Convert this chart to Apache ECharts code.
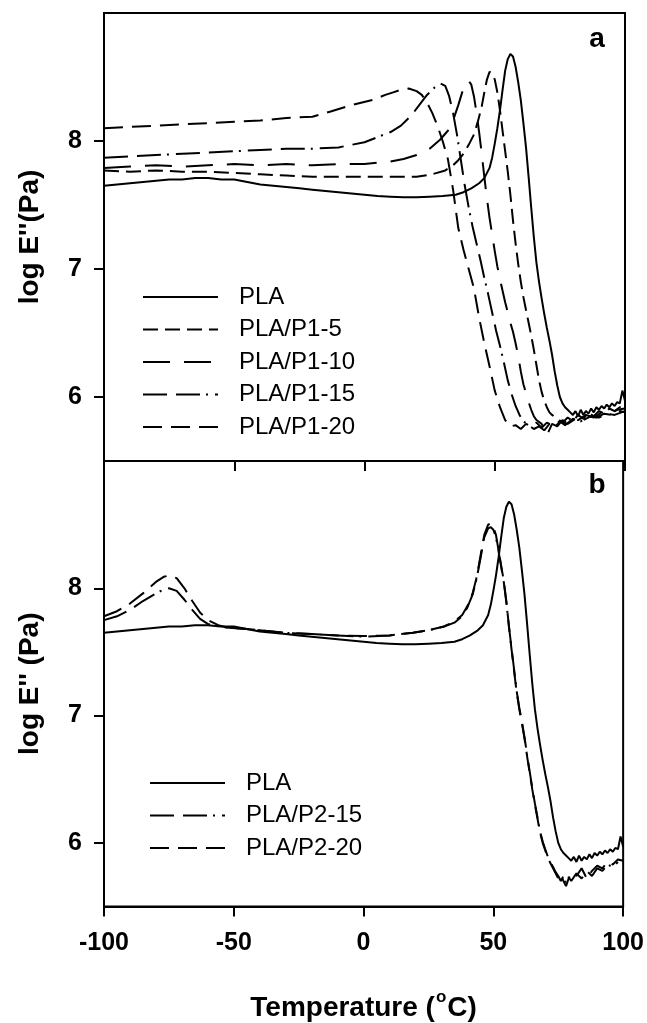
<!DOCTYPE html>
<html>
<head>
<meta charset="utf-8">
<script src="https://cdn.jsdelivr.net/npm/echarts@6/dist/echarts.min.js"></script>
<style>
html,body{margin:0;padding:0;background:#fff;}
#chart{width:647px;height:1023px;}
</style>
</head>
<body>
<div id="chart"></div>
<script>
// ---- Data (temperature °C, log E'' (Pa)) ----
const xTicks = [-100, -50, 0, 50, 100];
const yTicks = [6, 7, 8];

const plaCurve = [[-100,7.65],[-95,7.66],[-90,7.67],[-85,7.68],[-80,7.69],[-75,7.70],[-70,7.70],[-65,7.71],[-60,7.71],[-55,7.70],[-50,7.70],[-45,7.68],[-40,7.66],[-35,7.65],[-30,7.64],[-25,7.63],[-20,7.62],[-15,7.61],[-10,7.60],[-5,7.59],[0,7.58],[5,7.57],[10,7.565],[15,7.56],[20,7.56],[25,7.565],[30,7.57],[35,7.58],[38,7.60],[41,7.63],[44,7.67],[46,7.71],[48,7.79],[49,7.87],[50,7.98],[51,8.10],[52,8.24],[53,8.40],[54,8.55],[55,8.64],[56,8.68],[57,8.66],[58,8.58],[59,8.46],[60,8.32],[61,8.14],[62,7.95],[63,7.72],[64,7.48],[65,7.25],[66,7.05],[67,6.90],[68,6.77],[69,6.65],[70,6.54],[71,6.44],[72,6.33],[73,6.20],[74,6.09],[75,6.00],[76,5.95],[77,5.92],[78,5.90],[79,5.88],[80,5.86],[81,5.89],[82,5.85],[83,5.90],[84,5.86],[85,5.89],[86,5.87],[87,5.91],[88,5.88],[89,5.92],[90,5.90],[91,5.93],[92,5.91],[93,5.94],[94,5.92],[95,5.95],[96,5.93],[97,5.96],[98,5.95],[99,6.05],[100,5.97]];

const p1_5 = [[-100,7.77],[-90,7.76],[-80,7.77],[-70,7.76],[-60,7.76],[-50,7.75],[-40,7.74],[-30,7.73],[-20,7.72],[-10,7.72],[0,7.72],[10,7.72],[20,7.72],[26,7.74],[31,7.77],[34,7.81],[36,7.85],[38,7.90],[40,7.97],[42,8.05],[43.5,8.15],[45,8.27],[46,8.38],[47,8.48],[48,8.54],[49,8.53],[50,8.48],[51,8.38],[52,8.24],[53,8.08],[54,7.92],[55,7.76],[56,7.58],[57,7.38],[58,7.20],[59,7.04],[60,6.90],[61,6.78],[62,6.68],[63,6.58],[64,6.48],[65,6.37],[66,6.25],[67,6.13],[68,6.04],[69,5.97],[70,5.92],[71,5.88],[72,5.86],[74,5.83],[76,5.80],[78,5.84],[80,5.81],[82,5.86],[84,5.83],[86,5.88],[88,5.85],[90,5.89],[92,5.87],[94,5.91],[96,5.89],[98,5.92],[100,5.93]];

const p1_10 = [[-100,7.79],[-90,7.80],[-80,7.81],[-70,7.80],[-60,7.81],[-50,7.82],[-40,7.81],[-30,7.82],[-20,7.81],[-10,7.82],[0,7.82],[10,7.84],[15,7.86],[20,7.89],[25,7.94],[29,8.01],[32,8.08],[34,8.16],[36,8.28],[37.5,8.38],[39,8.46],[40,8.47],[41,8.44],[42,8.35],[43,8.22],[44,8.07],[45,7.90],[46,7.72],[47,7.55],[48,7.40],[49,7.27],[50,7.14],[51,7.02],[52,6.92],[53,6.83],[54,6.74],[55,6.66],[56,6.58],[57,6.51],[58,6.42],[59,6.32],[60,6.20],[61,6.10],[62,6.03],[63,5.96],[64,5.90],[65,5.85],[66,5.82],[68,5.79],[70,5.70],[72,5.79],[74,5.77],[76,5.82],[78,5.80],[80,5.84],[82,5.82],[85,5.86],[88,5.84],[91,5.88],[94,5.87],[97,5.90],[100,5.91]];

const p1_15 = [[-100,7.87],[-90,7.88],[-80,7.89],[-70,7.90],[-60,7.91],[-50,7.92],[-40,7.93],[-30,7.94],[-20,7.94],[-10,7.95],[-5,7.97],[0,7.99],[5,8.03],[10,8.07],[14,8.12],[18,8.20],[21,8.28],[24,8.36],[27,8.42],[29,8.45],[31,8.43],[32.5,8.35],[34,8.22],[35.5,8.05],[37,7.85],[38.5,7.65],[40,7.48],[41.5,7.33],[43,7.20],[44.5,7.07],[46,6.93],[47.5,6.80],[49,6.66],[50.5,6.52],[52,6.40],[53.5,6.27],[55,6.13],[56.5,6.02],[58,5.93],[59.5,5.86],[61,5.81],[63,5.78],[65,5.75],[67,5.77],[69,5.74],[71,5.79],[73,5.76],[75,5.81],[77,5.78],[80,5.83],[83,5.81],[86,5.85],[89,5.84],[92,5.87],[95,5.86],[98,5.89],[100,5.88]];

const p1_20 = [[-100,8.10],[-90,8.11],[-80,8.12],[-70,8.13],[-60,8.14],[-50,8.15],[-40,8.16],[-30,8.18],[-20,8.19],[-13,8.23],[-5,8.28],[3,8.32],[8,8.36],[11,8.38],[14,8.40],[17,8.41],[20,8.39],[22,8.36],[24,8.30],[26,8.22],[28,8.12],[30,8.00],[32,7.86],[34,7.62],[36,7.32],[38,7.15],[40,7.00],[42,6.85],[44,6.62],[46,6.42],[48,6.24],[50,6.05],[52,5.92],[54,5.82],[56,5.77],[58,5.78],[60,5.75],[62,5.79],[64,5.77],[66,5.80],[68,5.76],[70,5.80],[72,5.78],[75,5.81],[78,5.79],[81,5.83],[84,5.82],[87,5.85],[90,5.84],[93,5.87],[96,5.86],[100,5.89]];

const p2_15 = [[-100,7.75],[-95,7.78],[-90,7.83],[-85,7.90],[-80,7.96],[-77,7.99],[-75,8.00],[-72,7.98],[-69,7.91],[-66,7.83],[-63,7.76],[-60,7.72],[-56,7.70],[-52,7.69],[-45,7.68],[-40,7.67],[-30,7.65],[-20,7.64],[-10,7.63],[0,7.62],[10,7.63],[19,7.65],[25,7.67],[31,7.70],[35,7.73],[38,7.78],[40,7.85],[42,7.95],[43.5,8.07],[45,8.23],[46.5,8.40],[48,8.47],[49,8.48],[50,8.46],[51,8.40],[52,8.29],[53,8.17],[54,8.05],[55,7.89],[56,7.70],[57,7.53],[58,7.36],[59,7.19],[60,7.06],[61,6.95],[62,6.83],[63,6.69],[64,6.56],[65,6.43],[66,6.31],[67,6.20],[68,6.09],[69,6.01],[70,5.95],[71,5.89],[72,5.85],[73,5.81],[74,5.77],[75,5.74],[76,5.70],[77,5.74],[78,5.68],[79,5.73],[80,5.70],[82,5.76],[84,5.72],[86,5.78],[88,5.74],[90,5.80],[92,5.78],[94,5.83],[96,5.81],[98,5.85]];

const p2_20 = [[-100,7.78],[-95,7.82],[-90,7.88],[-85,7.96],[-80,8.05],[-77,8.09],[-75,8.10],[-72,8.08],[-69,8.00],[-66,7.90],[-63,7.81],[-60,7.75],[-56,7.71],[-52,7.69],[-45,7.68],[-40,7.67],[-30,7.65],[-20,7.64],[-10,7.63],[0,7.625],[10,7.63],[19,7.65],[25,7.67],[31,7.70],[35,7.74],[38,7.79],[40,7.86],[42,7.96],[43.5,8.08],[45,8.25],[46.5,8.42],[48,8.50],[49,8.51],[50,8.48],[51,8.42],[52,8.30],[53,8.18],[54,8.06],[55,7.90],[56,7.70],[57,7.52],[58,7.35],[59,7.18],[60,7.05],[61,6.94],[62,6.82],[63,6.68],[64,6.55],[65,6.42],[66,6.30],[67,6.19],[68,6.08],[69,6.00],[70,5.94],[71,5.88],[72,5.84],[73,5.80],[74,5.76],[75,5.72],[76,5.75],[77,5.70],[78,5.66],[79,5.72],[80,5.76],[82,5.74],[84,5.80],[86,5.72],[88,5.78],[90,5.82],[92,5.80],[94,5.85],[96,5.83],[98,5.87],[100,5.86]];

const legendA = ['PLA', 'PLA/P1-5', 'PLA/P1-10', 'PLA/P1-15', 'PLA/P1-20'];
const legendB = ['PLA', 'PLA/P2-15', 'PLA/P2-20'];

// ---- Styles ----
const FONT = '"Liberation Sans", Arial, sans-serif';
const dashShort = [15, 7];
const dashLong = [27, 14];
const dashDot = [24, 9, 24, 6, 2, 7];
const dashMed = [19, 9];

function axisX(grid, showLabels) {
  const a = {
    gridIndex: grid, type: 'value', min: -100, max: 100, interval: 50,
    axisLine: {show: true, onZero: false, lineStyle: {color: '#000', width: 2}},
    axisTick: {show: true, inside: false, length: 10, lineStyle: {color: '#000', width: 2}},
    axisLabel: {show: showLabels, fontSize: 25, fontWeight: 'bold', color: '#000', fontFamily: FONT, margin: 24},
    splitLine: {show: false}
  };
  if (showLabels) {
    a.name = 'Temperature ({sup|o}C)';
    a.nameLocation = 'middle';
    a.nameGap = 82;
    a.nameTextStyle = {fontSize: 28, fontWeight: 'bold', color: '#000', fontFamily: FONT,
      rich: {sup: {fontSize: 17, fontWeight: 'bold', color: '#000', fontFamily: FONT, padding: [0, 1, 22, 1]}}};
  }
  return a;
}
function axisY(grid, name) {
  return {
    gridIndex: grid, type: 'value', min: 5.5, max: 9, interval: 0.5,
    axisLine: {show: true, onZero: false, lineStyle: {color: '#000', width: 2}},
    axisTick: {show: true, inside: false, length: 10, customValues: yTicks, lineStyle: {color: '#000', width: 2}},
    axisLabel: {show: true, customValues: yTicks, fontSize: 25, fontWeight: 'bold', color: '#000', fontFamily: FONT, margin: 22},
    splitLine: {show: false},
    name: name, nameLocation: 'middle', nameRotate: 90, nameGap: 60,
    nameTextStyle: {fontSize: 28, fontWeight: 'bold', color: '#000', fontFamily: FONT}
  };
}
function ser(name, data, grid, type) {
  return {
    name: name, type: 'line', xAxisIndex: grid, yAxisIndex: grid, data: data,
    symbol: 'none', showSymbol: false, silent: true, animation: false,
    lineStyle: {color: '#000', width: 2, type: type, cap: 'butt'},
    itemStyle: {color: '#000'},
    emphasis: {disabled: true}
  };
}
function legend(names, left, top) {
  return {
    data: names, orient: 'vertical', left: left, top: top, padding: 0,
    itemWidth: 75, itemHeight: 14, itemGap: 8.5, selectedMode: false,
    itemStyle: {opacity: 0, borderWidth: 0},
    lineStyle: {width: 2},
    textStyle: {fontSize: 24, color: '#000', fontFamily: FONT, lineHeight: 24, padding: [0, 0, 0, 16]}
  };
}

const chart = echarts.init(document.getElementById('chart'), null, {renderer: 'canvas', width: 647, height: 1023});
chart.setOption({
  animation: false,
  backgroundColor: '#fff',
  title: [
    {text: 'a', left: 597, top: 25, textAlign: 'center', padding: 0, textStyle: {fontSize: 28, fontWeight: 'bold', color: '#000', fontFamily: FONT}},
    {text: 'b', left: 597, top: 471, textAlign: 'center', padding: 0, textStyle: {fontSize: 28, fontWeight: 'bold', color: '#000', fontFamily: FONT}}
  ],
  grid: [
    {left: 104, top: 13, width: 521, height: 448, show: true, borderColor: '#000', borderWidth: 2},
    {left: 104, top: 461, width: 521, height: 447, show: true, borderColor: '#000', borderWidth: 2}
  ],
  legend: [legend(legendA, 142, 285), legend(legendB, 149, 771)],
  xAxis: [axisX(0, false), axisX(1, true)],
  yAxis: [axisY(0, "log E''(Pa)"), axisY(1, "log E'' (Pa)")],
  series: [
    ser('PLA', plaCurve, 0, 'solid'),
    ser('PLA/P1-5', p1_5, 0, dashShort),
    ser('PLA/P1-10', p1_10, 0, dashLong),
    ser('PLA/P1-15', p1_15, 0, dashDot),
    ser('PLA/P1-20', p1_20, 0, dashMed),
    ser('PLA', plaCurve, 1, 'solid'),
    ser('PLA/P2-15', p2_15, 1, dashDot),
    ser('PLA/P2-20', p2_20, 1, dashMed)
  ]
});
</script>
</body>
</html>
